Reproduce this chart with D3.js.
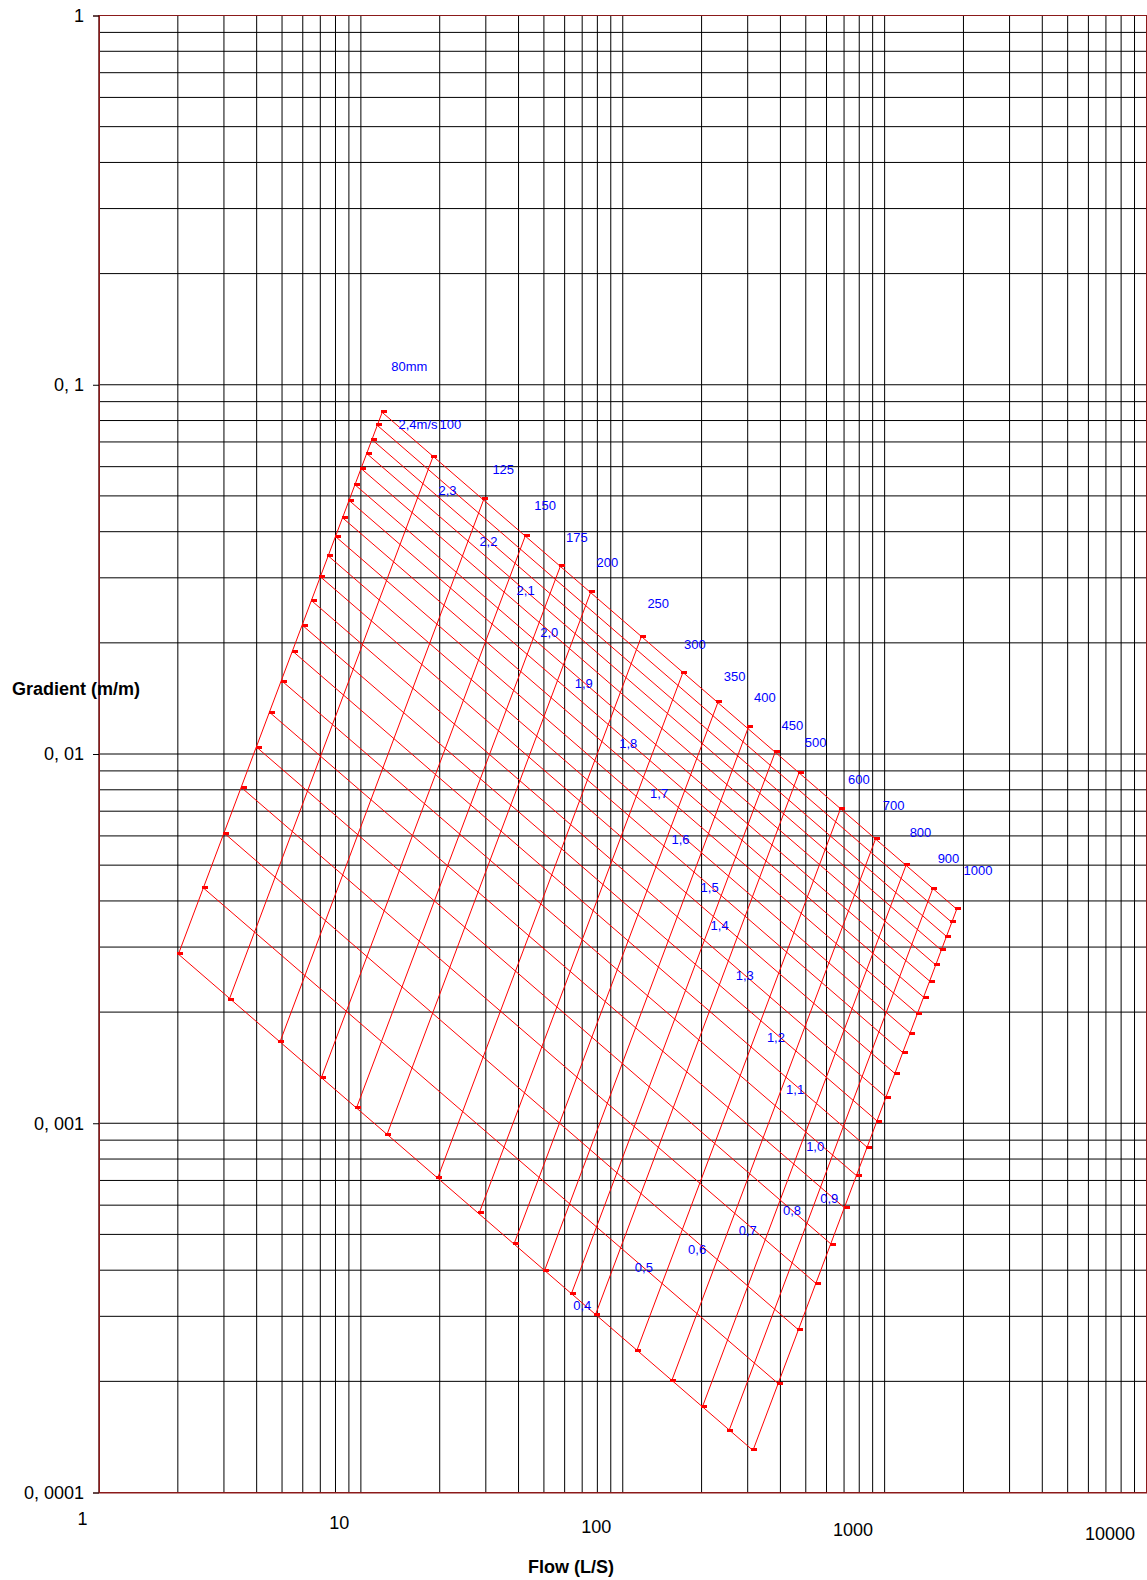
<!DOCTYPE html>
<html><head><meta charset="utf-8">
<script src="https://cdn.jsdelivr.net/npm/d3@7"></script>
<style>
body{margin:0;background:#fff}
svg{display:block}
text{font-family:Arial,"Liberation Sans",sans-serif}
</style>
</head><body>
<svg id="c" width="1147" height="1580"></svg>
<script>
// ---------- DATA ----------
const diameters = [80,100,125,150,175,200,250,300,350,400,450,500,600,700,800,900,1000];
const diameterLabels = ["80mm","100","125","150","175","200","250","300","350","400","450","500","600","700","800","900","1000"];
const velocities = [2.4,2.3,2.2,2.1,2.0,1.9,1.8,1.7,1.6,1.5,1.4,1.3,1.2,1.1,1.0,0.9,0.8,0.7,0.6,0.5,0.4];
const velocityLabels = ["2,4m/s","2,3","2,2","2,1","2,0","1,9","1,8","1,7","1,6","1,5","1,4","1,3","1,2","1,1","1,0","0,9","0,8","0,7","0,6","0,5","0,4"];

// each diameter line: point at 2.4 m/s (top edge) and at 0.4 m/s (bottom edge)
const flowTop    = [12.06,18.85,29.45,42.41,57.73,75.40,117.8,169.6,230.9,301.6,381.7,471.2,678.6,923.6,1206,1527,1885];
const gradTop    = [0.0842,0.0638,0.0489,0.0389,0.0322,0.0274,0.0208,0.0166,0.0138,0.0118,0.0101,0.0089,0.00711,0.00589,0.00499,0.00432,0.00380];
const flowBottom = [2.01,3.14,4.91,7.07,9.62,12.57,19.63,28.27,38.48,50.27,63.62,78.54,113.1,153.9,201.1,254.5,314.2];
const gradBottom = [0.00287,0.00216,0.00166,0.00133,0.00110,0.00093,0.00071,0.000570,0.000472,0.000399,0.000345,0.000302,0.000242,0.000201,0.000170,0.000147,0.000130];

// each velocity line: point at 80 mm (left edge) and at 1000 mm (right edge)
const flowLeft  = [12.06,11.56,11.06,10.56,10.05,9.55,9.05,8.55,8.04,7.54,7.04,6.53,6.03,5.53,5.03,4.52,4.02,3.52,3.02,2.51,2.01];
const gradLeft  = [0.0842,0.0776,0.0709,0.0650,0.0592,0.0534,0.0485,0.0435,0.0387,0.0343,0.0301,0.0259,0.0222,0.0189,0.0157,0.0129,0.0104,0.00808,0.00609,0.00433,0.00287];
const flowRight = [1885,1806,1728,1649,1571,1492,1414,1335,1257,1178,1100,1021,942,864,785,707,628,550,471,393,314.2];
const gradRight = [0.00380,0.00350,0.00320,0.00294,0.00268,0.00242,0.00219,0.00198,0.00175,0.00155,0.00136,0.00117,0.00101,0.000857,0.000719,0.000588,0.000469,0.000367,0.000275,0.000197,0.000130];

// label anchors (flow, gradient)
const diamLabelFlow = [13.06,19.95,31.78,45.94,60.69,79.38,124.2,171.4,242.9,316.9,404.2,495.9,725.4,983.6,1246,1594,2002];
const diamLabelGrad = [0.1124,0.07815,0.05895,0.04716,0.03853,0.03297,0.02560,0.01986,0.01623,0.01422,0.01198,0.01073,0.008541,0.007244,0.006123,0.005218,0.004830];
const velLabelFlow = [13.92,19.78,28.35,39.33,48.43,65.56,96.90,127.2,153.4,198.2,216.5,270.1,355.2,420.5,501.6,567.6,409.2,277.3,177.6,111.2,64.70];
const velLabelGrad = [0.07815,0.05164,0.03758,0.02768,0.02136,0.01553,0.01066,0.007830,0.005865,0.004363,0.003436,0.002511,0.001712,0.001234,0.000868,0.0006257,0.0005803,0.0005121,0.0004564,0.0004073,0.0003206];

const xTicks = [1,10,100,1000,10000];
const xTickLabels = ["1","10","100","1000","10000"];
const yTicks = [1,0.1,0.01,0.001,0.0001];
const yTickLabels = ["1","0, 1","0, 01","0, 001","0, 0001"];

// ---------- CHART ----------
const svg = d3.select('#c');
const x = d3.scaleLog().domain([1,10000]).range([99,1146.5]);
const y = d3.scaleLog().domain([0.0001,1]).range([1492.5,15.5]);

const xGrid = [], yGrid = [];
[1,10,100,1000].forEach(d => { for (let k=1;k<=9;k++) xGrid.push(k*d); });
xGrid.push(10000);
[0.0001,0.001,0.01,0.1].forEach(d => { for (let k=1;k<=9;k++) yGrid.push(k*d); });
yGrid.push(1);

const grid = svg.append('g').attr('stroke','#000').attr('stroke-width',1);
grid.selectAll('line.v').data(xGrid).join('line').attr('class','v')
  .attr('x1',d=>x(d)).attr('x2',d=>x(d)).attr('y1',y(1)).attr('y2',y(0.0001));
grid.selectAll('line.h').data(yGrid).join('line').attr('class','h')
  .attr('y1',d=>y(d)).attr('y2',d=>y(d)).attr('x1',x(1)).attr('x2',x(10000));

// frame
svg.append('rect').attr('x',x(1)).attr('y',y(1))
  .attr('width',x(10000)-x(1)).attr('height',y(0.0001)-y(1))
  .attr('fill','none').attr('stroke','#8b1a1a').attr('stroke-width',1);

// y axis
const yAxis = svg.append('g').attr('transform',`translate(${x(1)},0)`)
  .call(d3.axisLeft(y).tickValues(yTicks).tickFormat((d,i)=>yTickLabels[i]).tickSize(6).tickPadding(9));
yAxis.select('.domain').attr('stroke','#8b1a1a');
yAxis.selectAll('.tick line').attr('stroke','#000');
yAxis.selectAll('text').attr('font-size',18).attr('fill','#000').style('font-family','Arial,"Liberation Sans",sans-serif');

// x axis (labels staggered as in the reference)
const xAxis = svg.append('g').attr('transform',`translate(0,${y(0.0001)})`)
  .call(d3.axisBottom(x).tickValues(xTicks).tickFormat((d,i)=>xTickLabels[i]).tickSize(0));
xAxis.select('.domain').attr('stroke','#8b1a1a');
xAxis.selectAll('text').attr('font-size',18).attr('fill','#000')
  .style('font-family','Arial,"Liberation Sans",sans-serif')
  .attr('text-anchor','end').attr('x',-12).attr('dy',0)
  .attr('y',(d,i)=>32.5+i*3.75);

// red nomogram lines
const diamLines = diameters.map((d,i)=>({a:[flowTop[i],gradTop[i]], b:[flowBottom[i],gradBottom[i]]}));
const velLines = velocities.map((v,i)=>({a:[flowLeft[i],gradLeft[i]], b:[flowRight[i],gradRight[i]]}));
const red = svg.append('g').attr('stroke','#ff0000').attr('stroke-width',1).attr('fill','none');
red.selectAll('line').data(diamLines.concat(velLines)).join('line')
  .attr('x1',d=>x(d.a[0])).attr('y1',d=>y(d.a[1]))
  .attr('x2',d=>x(d.b[0])).attr('y2',d=>y(d.b[1]));

// markers at line ends
const pts = [];
diamLines.concat(velLines).forEach(l=>{pts.push(l.a);pts.push(l.b);});
svg.append('g').selectAll('rect').data(pts).join('rect')
  .attr('x',d=>Math.round(x(d[0])-1.5)).attr('y',d=>Math.round(y(d[1])-2))
  .attr('width',6).attr('height',3).attr('fill','#ff0000');

// blue labels
const lab = svg.append('g').attr('fill','#0000ff').attr('font-size',13);
lab.selectAll('text.d').data(diameterLabels).join('text').attr('class','d')
  .attr('x',(d,i)=>x(diamLabelFlow[i])).attr('y',(d,i)=>y(diamLabelGrad[i]))
  .attr('dy','0.35em').text(d=>d);
lab.selectAll('text.v').data(velocityLabels).join('text').attr('class','v')
  .attr('x',(d,i)=>x(velLabelFlow[i])).attr('y',(d,i)=>y(velLabelGrad[i]))
  .attr('dy','0.35em').text(d=>d);

// axis titles
svg.append('text').attr('x',12).attr('y',695).attr('font-size',18).attr('font-weight','bold')
  .attr('fill','#000').text('Gradient (m/m)');
svg.append('text').attr('x',571).attr('y',1573).attr('font-size',18).attr('font-weight','bold')
  .attr('text-anchor','middle').attr('fill','#000').text('Flow (L/S)');
</script>
</body></html>
